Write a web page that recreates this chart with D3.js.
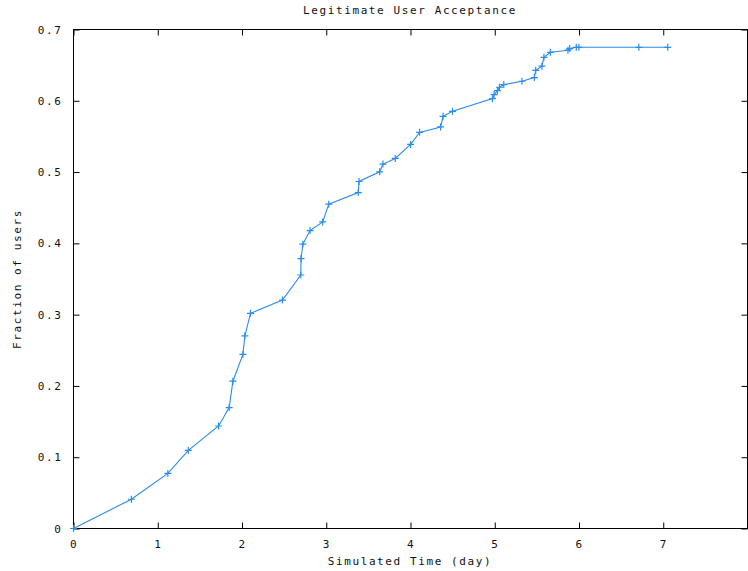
<!DOCTYPE html>
<html>
<head>
<meta charset="utf-8">
<script src="https://cdn.jsdelivr.net/npm/d3@7/dist/d3.min.js"></script>
<style>
  html, body { margin: 0; padding: 0; background: #fff; }
  svg { display: block; }
  text { font-family: "DejaVu Sans Mono", "Liberation Mono", monospace; font-size: 11px; letter-spacing: 1.6px; fill: #111; }
</style>
</head>
<body>
<svg id="chart" width="748" height="571"></svg>
<script>
const chartTitle = "Legitimate User Acceptance";
const xTitle = "Simulated Time (day)";
const yTitle = "Fraction of users";

const timeDays = [0, 0.687, 1.12, 1.363, 1.722, 1.848, 1.892, 2.011, 2.034, 2.101,
  2.48, 2.698, 2.701, 2.722, 2.808, 2.958, 3.03, 3.38, 3.389, 3.634, 3.673, 3.819,
  4.001, 4.108, 4.357, 4.387, 4.499, 4.973, 4.992, 5.032, 5.056, 5.107, 5.323,
  5.47, 5.486, 5.56, 5.584, 5.66, 5.869, 5.889, 5.968, 5.999, 6.71, 7.053];
const fraction = [0, 0.041, 0.0773, 0.1096, 0.1438, 0.1697, 0.2066, 0.2442, 0.2703, 0.3018,
  0.3205, 0.3556, 0.3786, 0.3988, 0.418, 0.430, 0.455, 0.4713, 0.4868, 0.5004, 0.5112, 0.5191,
  0.5388, 0.5557, 0.5633, 0.5782, 0.5852, 0.603, 0.6087, 0.6143, 0.619, 0.6227, 0.6274,
  0.6326, 0.6428, 0.6485, 0.661, 0.668, 0.671, 0.6733, 0.675, 0.675, 0.675, 0.675];

const xTicks = [0, 1, 2, 3, 4, 5, 6, 7];
const yTicks = [0, 0.1, 0.2, 0.3, 0.4, 0.5, 0.6, 0.7];
const xDomain = [0, 8];
const yDomain = [0, 0.7];

(function () {
const svg = d3.select("#chart");
const pLeft = 73.5, pRight = 747.5, pTop = 29.5, pBottom = 528.5;

const x = d3.scaleLinear().domain(xDomain).range([pLeft, pRight]);
const y = d3.scaleLinear().domain(yDomain).range([pBottom, pTop]);

const tickLen = 6;
svg.append("g").attr("transform", `translate(0,${pBottom})`)
  .call(d3.axisBottom(x).tickValues(xTicks).tickSize(-tickLen).tickPadding(10).tickFormat(d3.format("d")))
  .call(g => g.select(".domain").remove())
  .call(g => g.selectAll("line").attr("stroke", "#000"))
  .call(g => g.selectAll("text").attr("dy", "0.9em"));
svg.append("g").attr("transform", `translate(0,${pTop})`)
  .call(d3.axisTop(x).tickValues(xTicks).tickSize(-tickLen).tickFormat(""))
  .call(g => g.select(".domain").remove())
  .call(g => g.selectAll("line").attr("stroke", "#000"));
svg.append("g").attr("transform", `translate(${pLeft},0)`)
  .call(d3.axisLeft(y).tickValues(yTicks).tickSize(-tickLen).tickPadding(11).tickFormat(d => d === 0 ? "0" : d3.format(".1f")(d)))
  .call(g => g.select(".domain").remove())
  .call(g => g.selectAll("line").attr("stroke", "#000"));
svg.append("g").attr("transform", `translate(${pRight},0)`)
  .call(d3.axisRight(y).tickValues(yTicks).tickSize(-tickLen).tickFormat(""))
  .call(g => g.select(".domain").remove())
  .call(g => g.selectAll("line").attr("stroke", "#000"));

svg.selectAll("g").attr("font-size", null).attr("font-family", null);

svg.append("rect").attr("x", pLeft).attr("y", pTop)
  .attr("width", pRight - pLeft).attr("height", pBottom - pTop)
  .attr("fill", "none").attr("stroke", "#000").attr("stroke-width", 1);

const pts = timeDays.map((t, i) => [t, fraction[i]]);
const color = "#2a8cf0";
svg.append("path").datum(pts)
  .attr("fill", "none").attr("stroke", color).attr("stroke-width", 1.1)
  .attr("d", d3.line().x(d => x(d[0])).y(d => y(d[1])));

const m = 3.5;
svg.append("g").selectAll("path").data(pts).join("path")
  .attr("stroke", color).attr("stroke-width", 1.2).attr("fill", "none")
  .attr("d", d => {
    const cx = x(d[0]), cy = y(d[1]);
    return `M${cx - m},${cy}H${cx + m}M${cx},${cy - m}V${cy + m}`;
  });

svg.append("text").attr("x", 410).attr("y", 14).attr("text-anchor", "middle").text(chartTitle);
svg.append("text").attr("x", 410).attr("y", 565).attr("text-anchor", "middle").text(xTitle);
svg.append("text").attr("transform", `translate(21,${(pTop + pBottom) / 2}) rotate(-90)`)
  .attr("text-anchor", "middle").text(yTitle);
})();
</script>
</body>
</html>
